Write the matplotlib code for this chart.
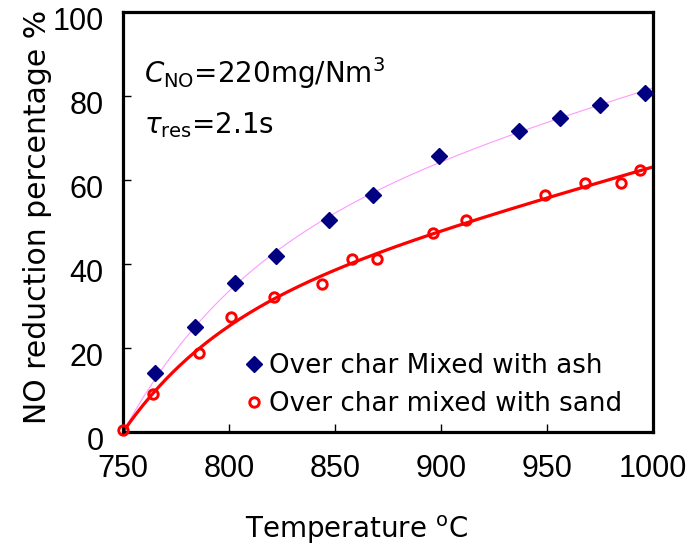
import numpy as np
import matplotlib
matplotlib.use("Agg")
import matplotlib.pyplot as plt
from matplotlib.transforms import ScaledTranslation

# ---- data ----
temp_ash = [765, 784, 803, 822, 847, 868, 899, 937, 956, 975, 996]
nored_ash = [14.1, 24.9, 35.4, 41.9, 50.5, 56.4, 65.7, 71.7, 74.7, 77.9, 80.8]

temp_sand = [750, 764, 786, 801, 821, 844, 858, 870, 896, 912, 949, 968, 985, 994]
nored_sand = [0.5, 9.0, 18.9, 27.3, 32.2, 35.2, 41.3, 41.1, 47.3, 50.5, 56.4, 59.4, 59.2, 62.4]

t_start = 750  # trend lines start from zero reduction at this temperature

label_ash = "Over char Mixed with ash"
label_sand = "Over char mixed with sand"
xticks = [750, 800, 850, 900, 950, 1000]
yticks = [0, 20, 40, 60, 80, 100]


def trend(tdata, ydata, tgrid):
    """Least-squares fit of y = A(1-exp(-dt/tau)) + c*dt (through the start point)."""
    dt = np.asarray(tdata, float) - t_start
    y = np.asarray(ydata, float)
    best = None
    for tau in np.linspace(5, 600, 1200):
        X = np.column_stack([1 - np.exp(-dt / tau), dt])
        coef = np.linalg.lstsq(X, y, rcond=None)[0]
        r = np.sum((X @ coef - y) ** 2)
        if best is None or r < best[0]:
            best = (r, tau, coef)
    _, tau, coef = best
    g = tgrid - t_start
    return coef[0] * (1 - np.exp(-g / tau)) + coef[1] * g


plt.rcParams['mathtext.fontset'] = 'custom'
plt.rcParams['mathtext.rm'] = 'DejaVu Sans'
plt.rcParams['mathtext.it'] = 'DejaVu Sans:italic'

fig = plt.figure(figsize=(6.95, 5.49), dpi=100)
ax = fig.add_axes([123/695, 1 - 432/549, 530/695, 420/549])

tt = np.linspace(750, 1000, 300)
ax.plot(tt, trend(temp_ash, nored_ash, tt), color='#FF99FF', lw=0.8, zorder=2)
ax.plot(tt, trend(temp_sand, nored_sand, tt), color='#FF0000', lw=2.3, zorder=2)

ax.plot(temp_ash, nored_ash, linestyle='none', marker='D', ms=8,
        color='#000080', mec='#000080', label=label_ash, zorder=4)
ax.plot(temp_sand, nored_sand, linestyle='none', marker='o', ms=6.8,
        mfc='none', mec='#FF0000', mew=2.1, label=label_sand, zorder=5, clip_on=False)

ax.set_xlim(750, 1000)
ax.set_ylim(0, 100)
ax.set_xticks(xticks)
ax.set_yticks(yticks)

for s in ax.spines.values():
    s.set_linewidth(2.3)

ax.tick_params(direction='in', length=6, width=1, labelsize=22)
ax.tick_params(axis='x', pad=16)
ax.tick_params(axis='y', pad=14)
for lab in ax.get_xticklabels() + ax.get_yticklabels():
    lab.set_fontfamily('Liberation Sans')
for lab in ax.get_yticklabels():
    lab.set_transform(lab.get_transform() + ScaledTranslation(0, -7/100, fig.dpi_scale_trans))

# alternating tick colours as in the reference
for i, t in enumerate(ax.xaxis.get_major_ticks()):
    if i in (2, 4):
        t.tick1line.set_color('#C8C8C8')
for i, t in enumerate(ax.yaxis.get_major_ticks()):
    if i in (2, 4):
        t.tick1line.set_color('#C8C8C8')

ax.set_xlabel(r'Temperature $^{\mathrm{o}}$C', fontsize=20, family='DejaVu Sans', labelpad=21)
ax.xaxis.label.set_x((356 - 123) / 530)
ax.set_ylabel('NO reduction percentage %', fontsize=21.5, family='DejaVu Sans', labelpad=0.5)
ax.yaxis.label.set_y((432 - 216.5) / 420)

ax.text(0.04, 0.855, r'$C_{\mathrm{NO}}$=220mg/Nm$^3$', transform=ax.transAxes,
        fontsize=20, va='center', ha='left', family='DejaVu Sans')
ax.text(0.04, 0.731, r'$\tau_{\mathrm{res}}$=2.1s', transform=ax.transAxes,
        fontsize=20, va='center', ha='left', family='DejaVu Sans')

leg = ax.legend(loc='center left', bbox_to_anchor=((244-123)/530, (432-385)/420),
                frameon=False, handlelength=0.8, handletextpad=0.15,
                labelspacing=0.45, borderpad=0, borderaxespad=0,
                prop={'family': 'DejaVu Sans', 'size': 18.8})

fig.savefig('out.png', dpi=100)
